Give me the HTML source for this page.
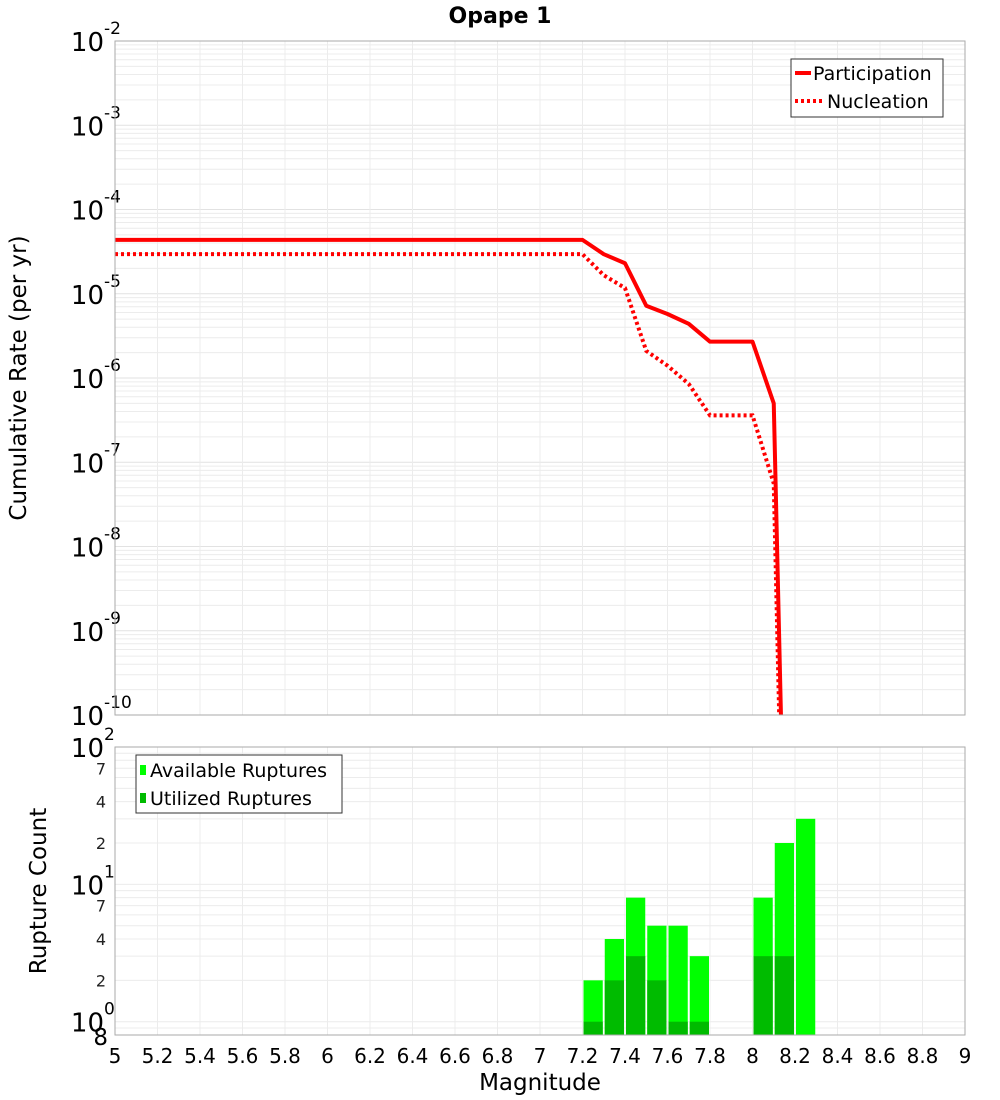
<!DOCTYPE html>
<html><head><meta charset="utf-8"><style>
html,body{margin:0;padding:0;background:#fff;overflow:hidden;width:1000px;height:1100px;}
svg{display:block;}
svg text{font-family:"DejaVu Sans","Liberation Sans",sans-serif;}
</style></head><body>
<svg id="c" width="1000" height="1100" xmlns="http://www.w3.org/2000/svg">
<defs>
<clipPath id="cpTop"><rect x="115" y="41" width="850" height="674"/></clipPath>
<clipPath id="cpBot"><rect x="115" y="747" width="850" height="288"/></clipPath>
</defs>
<rect x="0" y="0" width="1000" height="1100" fill="#fff"/>
<text x="500" y="23" text-anchor="middle" font-size="22" font-weight="bold">Opape 1</text>
<g id="gTop"></g>
<g id="gBot"></g>
<text transform="translate(26,378) rotate(-90)" text-anchor="middle" font-size="23">Cumulative Rate (per yr)</text>
<text transform="translate(46,891) rotate(-90)" text-anchor="middle" font-size="23">Rupture Count</text>
<text x="540" y="1090" text-anchor="middle" font-size="23">Magnitude</text>
<g>
<rect x="791" y="59" width="152" height="58" fill="#fff" stroke="#333" stroke-width="1"/>
<line x1="795" y1="73" x2="811" y2="73" stroke="#f00" stroke-width="4"/>
<text x="813" y="80" font-size="19">Participation</text>
<line x1="795" y1="101" x2="823" y2="101" stroke="#f00" stroke-width="4" stroke-dasharray="3,3"/>
<text x="827" y="108" font-size="19">Nucleation</text>
</g>
<g>
<rect x="136" y="755" width="206" height="58" fill="#fff" stroke="#333" stroke-width="1"/>
<rect x="140" y="765" width="6" height="10" fill="#00ff00"/>
<text x="150" y="777" font-size="19">Available Ruptures</text>
<rect x="140" y="793" width="6" height="10" fill="#00bb00"/>
<text x="150" y="805" font-size="19">Utilized Ruptures</text>
</g>
</svg>
<script>
const xMin = 5, xMax = 9;
const xTicks = [5,5.2,5.4,5.6,5.8,6,6.2,6.4,6.6,6.8,7,7.2,7.4,7.6,7.8,8,8.2,8.4,8.6,8.8,9];
const xTickLabels = ["5","5.2","5.4","5.6","5.8","6","6.2","6.4","6.6","6.8","7","7.2","7.4","7.6","7.8","8","8.2","8.4","8.6","8.8","9"];
const topDecades = [-2,-3,-4,-5,-6,-7,-8,-9,-10];
const rateMags = [5,5.1,5.2,5.3,5.4,5.5,5.6,5.7,5.8,5.9,6,6.1,6.2,6.3,6.4,6.5,6.6,6.7,6.8,6.9,7,7.1,7.2,7.3,7.4,7.5,7.6,7.7,7.8,7.9,8,8.1,8.2];
const participation = [4.36e-5,4.36e-5,4.36e-5,4.36e-5,4.36e-5,4.36e-5,4.36e-5,4.36e-5,4.36e-5,4.36e-5,4.36e-5,4.36e-5,4.36e-5,4.36e-5,4.36e-5,4.36e-5,4.36e-5,4.36e-5,4.36e-5,4.36e-5,4.36e-5,4.36e-5,4.36e-5,2.95e-5,2.3e-5,7.2e-6,5.75e-6,4.4e-6,2.7e-6,2.7e-6,2.7e-6,5e-7,6e-18];
const nucleation = [2.95e-5,2.95e-5,2.95e-5,2.95e-5,2.95e-5,2.95e-5,2.95e-5,2.95e-5,2.95e-5,2.95e-5,2.95e-5,2.95e-5,2.95e-5,2.95e-5,2.95e-5,2.95e-5,2.95e-5,2.95e-5,2.95e-5,2.95e-5,2.95e-5,2.95e-5,2.95e-5,1.66e-5,1.17e-5,2.1e-6,1.4e-6,8.5e-7,3.6e-7,3.6e-7,3.6e-7,5.6e-8,1e-18];
const barMags = [7.2,7.3,7.4,7.5,7.6,7.7,8.0,8.1,8.2];
const available = [2,4,8,5,5,3,8,20,30];
const utilized = [1,2,3,2,1,1,3,3,0];
const botMinorLabels = ["2","4","7"];

const NS="http://www.w3.org/2000/svg";
const L=115,R=965,TT=41,TB=715,BT=747,BB=1035;
const xs=m=>L+(m-xMin)/(xMax-xMin)*(R-L);
const yTop=v=>TT+(-2-Math.log10(v))/8*(TB-TT);
const botMin=0.8, botMax=100;
const yBot=v=>BT+(Math.log10(botMax)-Math.log10(v))/(Math.log10(botMax)-Math.log10(botMin))*(BB-BT);
function mk(tag,attrs,parent){const e=document.createElementNS(NS,tag);for(const k in attrs)e.setAttribute(k,attrs[k]);parent.appendChild(e);return e;}
const gT=document.getElementById('gTop'), gB=document.getElementById('gBot');

for(let d=-10;d<-2;d++){for(let k=1;k<10;k++){const y=yTop(k*Math.pow(10,d));
const l=mk('line',{x1:L,x2:R,y1:y,y2:y,stroke:k==1?'#e2e2e2':'#ececec','stroke-width':1},gT);

}}
for(let d=-1;d<2;d++){for(let k=1;k<10;k++){const v=k*Math.pow(10,d);if(v<botMin||v>botMax)continue;const y=yBot(v);
const l=mk('line',{x1:L,x2:R,y1:y,y2:y,stroke:'#ececec','stroke-width':1},gB);

}}
xTicks.forEach((t,i)=>{const x=xs(t);
const a=mk('line',{x1:x,x2:x,y1:TT,y2:TB,stroke:'#ececec'},gT);


const b=mk('line',{x1:x,x2:x,y1:BT,y2:BB,stroke:'#ececec'},gB);


const tx=mk('text',{x:x,y:1063,'text-anchor':'middle','font-size':20},gB);tx.textContent=xTickLabels[i];


});
topDecades.forEach(d=>{const y=yTop(Math.pow(10,d));
const t=mk('text',{x:104,y:y+10,'text-anchor':'end','font-size':26},gT);t.textContent='10';


const s=mk('text',{x:104,y:y-7,'font-size':17},gT);s.textContent=String(d);


});
[2,1,0].forEach(d=>{const y=yBot(Math.pow(10,d));
const t=mk('text',{x:104,y:y+10,'text-anchor':'end','font-size':26},gB);t.textContent='10';


const s=mk('text',{x:104,y:y-7,'font-size':17},gB);s.textContent=String(d);


});
[0,1].forEach(d=>{botMinorLabels.forEach(lb=>{const y=yBot(Number(lb)*Math.pow(10,d));
const t=mk('text',{x:106,y:y+6,'text-anchor':'end','font-size':16,fill:'#222'},gB);t.textContent=lb;

});});
const e8=mk('text',{x:108,y:yBot(0.8)+10,'text-anchor':'end','font-size':23},gB);e8.textContent='8';



const bw=(xs(0.1)-xs(0));
const barG=mk('g',{'clip-path':'url(#cpBot)'},gB);
barMags.forEach((m,i)=>{
const x0=xs(m)+1,w=bw-2;
if(available[i]>0){const y=yBot(available[i]);
const r=mk('rect',{x:x0,y:y,width:w,height:BB-y,fill:'#00ff00'},barG);

}
if(utilized[i]>0){const y=yBot(utilized[i]);
const r=mk('rect',{x:x0,y:y,width:w,height:BB-y,fill:'#00bb00'},barG);

}
});

const lineG=mk('g',{'clip-path':'url(#cpTop)'},gT);
const pth=vals=>vals.map((v,i)=>(i?'L':'M')+xs(rateMags[i]).toFixed(2)+','+yTop(v).toFixed(2)).join(' ');
const pn=mk('path',{d:pth(nucleation),fill:'none',stroke:'#f00','stroke-width':4,'stroke-dasharray':'3,3'},lineG);


const pp=mk('path',{d:pth(participation),fill:'none',stroke:'#f00','stroke-width':4,'stroke-linejoin':'round'},lineG);



const f1=mk('rect',{x:L,y:TT,width:R-L,height:TB-TT,fill:'none',stroke:'#aaa'},gT);


const f2=mk('rect',{x:L,y:BT,width:R-L,height:BB-BT,fill:'none',stroke:'#aaa'},gB);


</script>
</body></html>
